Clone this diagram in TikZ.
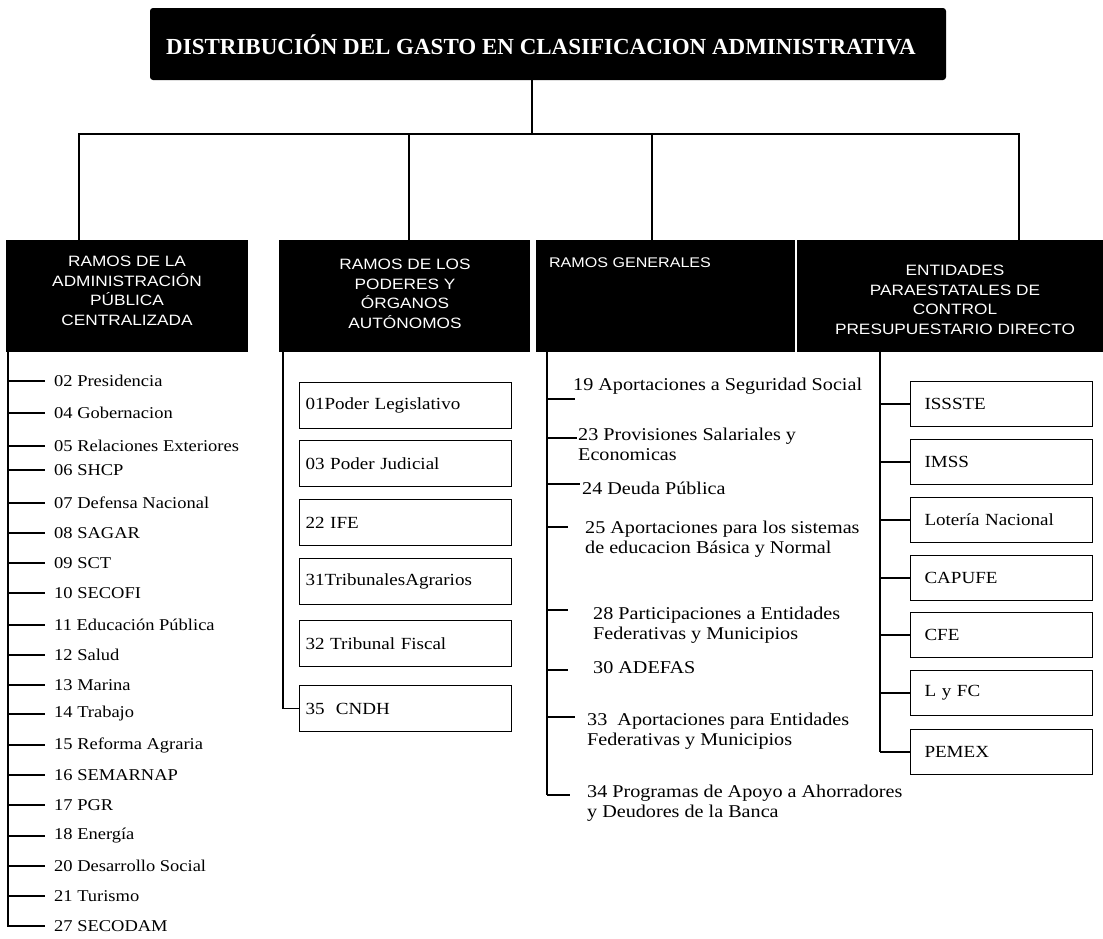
\documentclass[tikz,border=0pt]{standalone}
\usepackage{fontspec}
\setmainfont{Liberation Serif}[FakeStretch=1.12]
\newfontfamily\headfont{Liberation Sans}[FakeStretch=1.15]
\newfontfamily\titlefont{Liberation Serif}

\begin{document}
\begin{tikzpicture}[x=1pt,y=-1pt,
  hbox/.style={fill=black,minimum height=112pt,inner sep=0pt},
  htext/.style={text=white,font=\headfont\fontsize{15}{19.5}\selectfont,align=center,inner sep=0pt},
  bus/.style={line width=1.8pt},
  trunk/.style={line width=1.4pt},
  tick/.style={line width=1.2pt},
  item/.style={font=\fontsize{16.5}{19}\selectfont,anchor=west,inner sep=0pt,align=left},
  gitem/.style={item,font=\fontsize{18}{20}\selectfont},
  ibox/.style={draw,line width=1pt,anchor=north west,minimum width=212pt,minimum height=46pt,
    text width=200pt,inner xsep=6pt,align=left,font=\fontsize{17}{19}\selectfont},
  ebox/.style={draw,line width=1pt,anchor=north west,minimum width=182pt,minimum height=45pt,
    text width=154pt,inner xsep=14pt,align=left,font=\fontsize{17}{19}\selectfont}]
  \useasboundingbox (0,0) rectangle (1103,938);

  % title
  \node[fill=black,rounded corners=3pt,minimum width=796pt,minimum height=72pt,inner sep=0pt] (t) at (548,44) {};
  \node[text=white,font=\titlefont\bfseries\fontsize{23}{26}\selectfont,inner sep=0pt] (tt) at (541,45)
    {DISTRIBUCIÓN DEL GASTO EN CLASIFICACION ADMINISTRATIVA};

  % headers
  \node[hbox,minimum width=242pt] (h1) at (127,296) {};
  \node[hbox,minimum width=251pt] (h2) at (404.5,296) {};
  \node[hbox,minimum width=259pt] (h3) at (665.5,296) {};
  \node[hbox,minimum width=306pt] (h4) at (950,296) {};
  \node[htext] (h1t) at (127,291) {RAMOS DE LA\\ADMINISTRACIÓN\\PÚBLICA\\CENTRALIZADA};
  \node[htext] (h2t) at (405,294) {RAMOS DE LOS\\PODERES Y\\ÓRGANOS\\AUTÓNOMOS};
  \node[htext,font=\headfont\fontsize{14}{19.5}\selectfont] (h3t) at (630,263) {RAMOS GENERALES};
  \node[htext] (h4t) at (955,300) {ENTIDADES\\PARAESTATALES DE\\CONTROL\\PRESUPUESTARIO DIRECTO};

  % bus
  \coordinate (b0) at (532,134);
  \coordinate (bl) at (79,134);
  \coordinate (br) at (1019,134);
  \coordinate (d2) at (409,134);
  \coordinate (d3) at (652,134);
  \draw[bus] (t.south -| b0) -- (b0);
  \draw[bus] (h1.north -| bl) -- (bl) -- (br) -- (h4.north -| br);
  \draw[bus] (d2) -- (h2.north -| d2);
  \draw[bus] (d3) -- (h3.north -| d3);

  % ramos de la administracion publica centralizada
  \coordinate (c1) at (8,352);
  \foreach \y/\txt [count=\i] in {381/02 Presidencia,413/04 Gobernacion,446/05 Relaciones Exteriores,
      470/06 SHCP,503/07 Defensa Nacional,533/08 SAGAR,563/09 SCT,593/10 SECOFI,625/11 Educación Pública,
      655/12 Salud,685/13 Marina,714/14 Trabajo,745/15 Reforma Agraria,775/16 SEMARNAP,805/17 PGR,
      836/18 Energía,866/20 Desarrollo Social,896/21 Turismo,926/27 SECODAM} {
    \node[item] (a\i) at (54,\y) {\txt};
    \draw[tick,shorten >=9pt] (c1 |- a\i.west) -- (a\i.west);
  }
  \draw[trunk,shorten >=9pt] (c1) |- (a19.west);

  % ramos de los poderes
  \coordinate (c2) at (283,352);
  \foreach \y/\txt [count=\i] in {382/01Poder Legislativo,440/03 Poder Judicial,499/22 IFE,
      558/31TribunalesAgrarios,620/32 Tribunal Fiscal,685/35~~CNDH} {
    \node[ibox] (p\i) at (299,\y) {\txt};
  }
  \draw[trunk] (c2) |- (p6.west);

  % ramos generales
  \coordinate (c3) at (547,352);
  \foreach \ty/\te/\x/\y/\txt [count=\i] in {399/575/573/386/19 Aportaciones a Seguridad Social,
      438/577/578/444/23 Provisiones Salariales y\\Economicas,
      484/580/582/488/24 Deuda Pública,
      527/568/585/539/25 Aportaciones para los sistemas\\de educacion Básica y Normal,
      610/568/593/625/28 Participaciones a Entidades\\Federativas y Municipios,
      670/568/593/668/30 ADEFAS,
      717/575/587/731/33~~Aportaciones para Entidades\\Federativas y Municipios,
      795/570/587/803/34 Programas de Apoyo a Ahorradores\\y Deudores de la Banca} {
    \node[gitem] (g\i) at (\x,\y) {\txt};
    \coordinate (gt\i) at (547,\ty);
    \coordinate (ge\i) at (\te,\ty);
    \draw[tick] (gt\i) -- (ge\i);
  }
  \draw[trunk] (c3) -- (gt8);

  % entidades paraestatales
  \coordinate (c4) at (880,352);
  \foreach \y/\txt [count=\i] in {381/ISSSTE,439/IMSS,497/Lotería Nacional,555/CAPUFE,
      612/CFE,670/L y FC,729/PEMEX} {
    \node[ebox] (e\i) at (910,\y) {\txt};
    \draw[tick] (c4 |- e\i.west) -- (e\i.west);
  }
  \draw[trunk] (c4) -- (c4 |- e7.west);
\end{tikzpicture}
\end{document}
